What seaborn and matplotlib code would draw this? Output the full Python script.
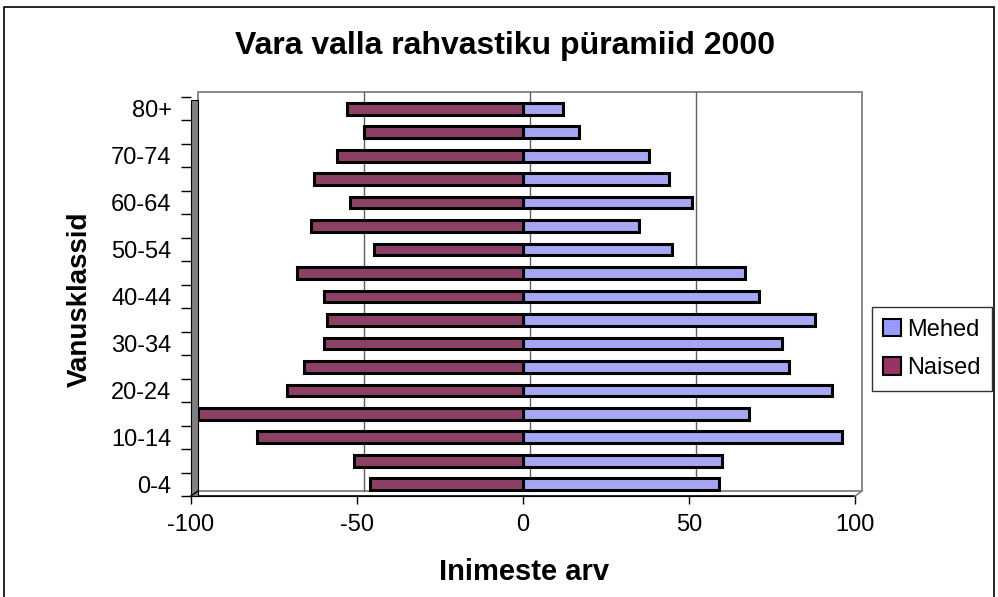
import matplotlib.pyplot as plt
import matplotlib.transforms as mtransforms
from matplotlib.patches import Rectangle
from matplotlib.lines import Line2D
import seaborn as sns
import pandas as pd
import numpy as np

groups = ["0-4", "5-9", "10-14", "15-19", "20-24", "25-29", "30-34", "35-39",
          "40-44", "45-49", "50-54", "55-59", "60-64", "65-69", "70-74", "75-79", "80+"]
mehed = [59, 60, 96, 68, 93, 80, 78, 88, 71, 67, 45, 35, 51, 44, 38, 17, 12]
naised = [-46, -51, -80, -98, -71, -66, -60, -59, -60, -68, -45, -64, -52, -63, -56, -48, -53]
series = ["Mehed", "Naised"]
colors = ["#9999FF", "#993366"]
xticks = [-100, -50, 0, 50, 100]

plt.rcParams["font.family"] = ["Liberation Sans", "DejaVu Sans"]
plt.rcParams["font.size"] = 17

df = pd.DataFrame({
    "group": groups * 2,
    "value": mehed + naised,
    "sex": ["Mehed"] * len(groups) + ["Naised"] * len(groups),
})

W, H = 998, 597
fig = plt.figure(figsize=(W / 100, H / 100), dpi=100)
ax = fig.add_axes([191 / W, 1 - 496 / H, 664 / W, 399 / H])

# back wall of the 3d box, shifted up and right
off = mtransforms.ScaledTranslation(7 / 100, 5 / 100, fig.dpi_scale_trans)
ax.add_patch(Rectangle((0, 0), 1, 1, transform=ax.transAxes + off, fill=False,
                       edgecolor="#808080", lw=1.3, clip_on=False, zorder=0))
for v in xticks[1:-1]:
    ax.plot([v, v], [0, 1], transform=ax.get_xaxis_transform() + off,
            color="#606060", lw=1.0, zorder=0, clip_on=False)
# floor edges and left side wall
ax.plot([0, 1], [0, 0], transform=ax.transAxes, color="black", lw=1.2, clip_on=False)
fig.add_artist(Line2D([855 / W, 862 / W], [1 - 496 / H, 1 - 491 / H], color="#808080", lw=1.2))
fig.add_artist(Line2D([191 / W, 198 / W], [1 - 496 / H, 1 - 491 / H], color="black", lw=1))
fig.add_artist(Rectangle((191 / W, 1 - 496 / H), 7 / W, 396 / H,
                         facecolor="#808080", edgecolor="black", lw=0.8))

sns.barplot(data=df, x="value", y="group", hue="sex", order=groups[::-1],
            hue_order=series, palette=colors, dodge=False, width=0.5,
            edgecolor="black", linewidth=2.2, legend=False, ax=ax, zorder=3)

ax.set_xlim(-100, 100)
ax.set_xticks(xticks)
ax.set_xticklabels([str(v) for v in xticks])
labels = [g if i % 2 == 0 else "" for i, g in enumerate(groups)][::-1]
ax.set_yticks(range(len(groups)))
ax.set_yticklabels(labels)
ax.set_yticks(np.arange(len(groups) + 1) - 0.5, minor=True)
ax.tick_params(axis="y", which="major", length=0, pad=14)
ax.tick_params(axis="y", which="minor", length=7, width=1)
ax.tick_params(axis="x", length=6, pad=7, width=1)
for s in ["top", "right", "left"]:
    ax.spines[s].set_visible(False)
ax.set_xlabel("Inimeste arv", fontsize=21, fontweight="bold")
ax.set_ylabel("Vanusklassid", fontsize=20, fontweight="bold")
ax.xaxis.set_label_coords((524 - 191) / 664, -(572 - 496) / 399)
ax.yaxis.set_label_coords(-(191 - 80) / 664, (496 - 299) / 399)
ax.xaxis.label.set_va("center")
ax.yaxis.label.set_va("center")
ax.set_facecolor("none")

fig.text(505 / W, 1 - 46 / H, "Vara valla rahvastiku püramiid 2000",
         ha="center", va="center", fontsize=23, fontweight="bold")

handles = [Rectangle((0, 0), 1, 1, facecolor=c, edgecolor="black", lw=1.5) for c in colors]
fig.legend(handles, series, loc="center", bbox_to_anchor=(932 / W, 1 - 349 / H),
           frameon=True, fancybox=False, edgecolor="black", fontsize=17,
           handlelength=0.75, handleheight=0.75, handletextpad=0.25, borderpad=0.5,
           labelspacing=0.7, borderaxespad=0)

fig.add_artist(Rectangle((4 / W, -0.01), 990 / W, 1 - 7 / H + 0.01,
                         fill=False, edgecolor="black", lw=1.2))

fig.savefig("out.png", dpi=100)
